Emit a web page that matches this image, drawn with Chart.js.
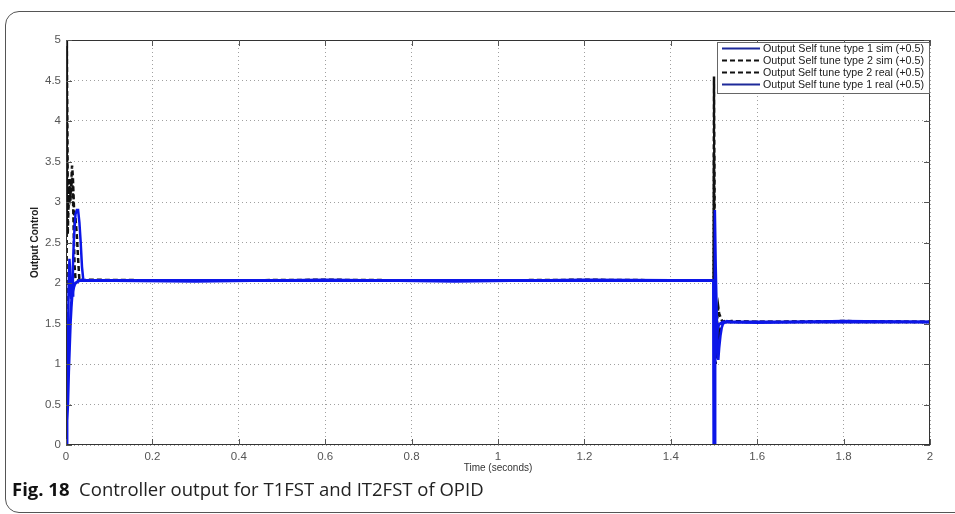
<!DOCTYPE html>
<html>
<head>
<meta charset="utf-8">
<script src="https://cdn.jsdelivr.net/npm/chart.js@4.4.1/dist/chart.umd.min.js"></script>
<style>
  html, body { margin: 0; padding: 0; background: #fff; }
  #wrap { position: relative; width: 955px; height: 514px; overflow: hidden; }
  #card { position: absolute; left: 5px; top: 11px; width: 980px; height: 502px;
          border: 1px solid #555; border-radius: 14px 0 0 14px; box-sizing: border-box; }
  #chart { position: absolute; left: 0; top: 0; }
  #caption { position: absolute; left: 12px; top: 476px; font-family: "Open Sans", sans-serif;
             font-size: 18.5px; color: #222; white-space: pre; }
  #caption b { font-weight: 700; color: #111; }
</style>
</head>
<body>
<div id="wrap">
  <div id="card"></div>
  <canvas id="chart" width="955" height="514"></canvas>
  <div id="caption"><b>Fig. 18</b>  Controller output for T1FST and IT2FST of OPID</div>
</div>
<script>
// time axis (seconds), shared by all series
var time = [0, 0.002, 0.004, 0.006, 0.008, 0.010, 0.012, 0.014, 0.016, 0.018, 0.020, 0.022,
            0.025, 0.028, 0.031, 0.034, 0.037, 0.040, 0.050,
            0.30, 0.60, 0.90, 1.20, 1.499,
            1.500, 1.502, 1.504, 1.506, 1.508, 1.510, 1.512,
            1.515, 1.518, 1.521, 1.525, 1.530, 1.540,
            1.60, 1.80, 2.00];

var type1Sim = [0, 0.3, 0.5, 0.9, 1.2, 1.5, 1.7, 1.85, 1.9, 1.95, 1.98, 2.0,
                2.01, 2.02, 2.03, 2.03, 2.03, 2.03, 2.03,
                2.03, 2.03, 2.03, 2.03, 2.03,
                0, 1.0, 1.2, 1.35, 1.42, 1.47, 1.49,
                1.5, 1.51, 1.52, 1.52, 1.52, 1.52,
                1.52, 1.52, 1.52];

var type2Sim = [0, 5.0, 2.6, 3.0, 3.2, 3.1, 3.2, 3.3, 3.1, 2.6, 2.2, 2.05,
                2.03, 2.03, 2.03, 2.03, 2.03, 2.03, 2.03,
                2.03, 2.03, 2.03, 2.03, 2.03,
                4.55, 2.0, 1.3, 1.1, 1.2, 1.4, 1.35,
                1.45, 1.5, 1.52, 1.52, 1.52, 1.52,
                1.52, 1.52, 1.52];

var type2Real = [0, 4.3, 2.8, 3.1, 3.3, 3.0, 3.2, 3.45, 3.3, 3.0, 2.7, 2.8,
                 2.6, 2.3, 2.04, 2.03, 2.04, 2.03, 2.04,
                 2.03, 2.04, 2.03, 2.04, 2.03,
                 3.6, 1.5, 1.0, 1.3, 1.6, 1.7, 1.62,
                 1.58, 1.54, 1.52, 1.53, 1.52, 1.53,
                 1.52, 1.53, 1.52];

var type1Real = [0, 0.5, 1.0, 1.9, 2.3, 2.1, 1.8, 1.9, 2.2, 2.5, 2.7, 2.85,
                 2.9, 2.9, 2.75, 2.5, 2.2, 2.04, 2.03,
                 2.02, 2.04, 2.02, 2.04, 2.03,
                 0, 2.9, 2.2, 1.7, 1.3, 1.05, 1.2,
                 1.35, 1.45, 1.5, 1.51, 1.53, 1.52,
                 1.51, 1.53, 1.52];

var seriesLabels = ['Output Self tune type 1 sim (+0.5)', 'Output Self tune type 2 sim (+0.5)',
                    'Output Self tune type 2 real (+0.5)', 'Output Self tune type 1 real (+0.5)'];

var xTicks = [0, 0.2, 0.4, 0.6, 0.8, 1, 1.2, 1.4, 1.6, 1.8, 2];
var yTicks = [0, 0.5, 1, 1.5, 2, 2.5, 3, 3.5, 4, 4.5, 5];

var BLUE = '#0c16e8';
var NAVY = '#1e2a9a';

function pts(vals) {
    return time.map(function (t, i) { return { x: t, y: vals[i] }; });
}

// frame, inner ticks, legend and axis titles drawn by hand (MATLAB look)
var matlabDecor = {
    id: 'matlabDecor',
    afterDraw: function (chart) {
        var ctx = chart.ctx;
        var a = chart.chartArea;
        var xs = chart.scales.x, ys = chart.scales.y;
        ctx.save();
        ctx.strokeStyle = '#333';
        ctx.lineWidth = 1;
        ctx.strokeRect(a.left + 0.5, a.top + 0.5, a.right - a.left - 1, a.bottom - a.top - 1);
        ctx.strokeStyle = '#555';
        ctx.beginPath();
        xTicks.forEach(function (v) {
            var px = Math.round(xs.getPixelForValue(v)) + 0.5;
            ctx.moveTo(px, a.bottom); ctx.lineTo(px, a.bottom - 6);
            ctx.moveTo(px, a.top); ctx.lineTo(px, a.top + 6);
        });
        yTicks.forEach(function (v) {
            var py = Math.round(ys.getPixelForValue(v)) + 0.5;
            ctx.moveTo(a.left, py); ctx.lineTo(a.left + 6, py);
            ctx.moveTo(a.right, py); ctx.lineTo(a.right - 6, py);
        });
        ctx.stroke();

        // legend box
        var bx = 717, by = 42, bw = 212, bh = 51;
        ctx.fillStyle = '#fff';
        ctx.fillRect(bx, by, bw, bh);
        ctx.strokeStyle = '#666';
        ctx.strokeRect(bx + 0.5, by + 0.5, bw, bh);
        ctx.font = '11px "Liberation Sans", Arial, sans-serif';
        ctx.textBaseline = 'middle';
        ctx.textAlign = 'left';
        chart.data.datasets.forEach(function (ds, i) {
            var ly = by + 6.5 + i * 12;
            ctx.beginPath();
            ctx.strokeStyle = ds.legendColor;
            ctx.lineWidth = 2;
            ctx.setLineDash(ds.borderDash || []);
            ctx.moveTo(bx + 5, ly); ctx.lineTo(bx + 43, ly);
            ctx.stroke();
            ctx.setLineDash([]);
            ctx.fillStyle = '#222';
            ctx.fillText(ds.label, bx + 46, ly, 161);
        });

        // axis titles
        ctx.fillStyle = '#333';
        ctx.font = '10px "Liberation Sans", Arial, sans-serif';
        ctx.textAlign = 'center';
        ctx.fillText('Time (seconds)', (a.left + a.right) / 2, a.bottom + 23);
        ctx.save();
        ctx.translate(35, (a.top + a.bottom) / 2);
        ctx.rotate(-Math.PI / 2);
        ctx.font = 'bold 10px "Liberation Sans", Arial, sans-serif';
        ctx.fillStyle = '#222';
        ctx.fillText('Output Control', 0, 0);
        ctx.restore();
        ctx.restore();
    }
};

var chart = new Chart(document.getElementById('chart'), {
    type: 'line',
    data: {
        datasets: [
            { label: seriesLabels[0], data: pts(type1Sim), borderColor: BLUE, legendColor: NAVY,
              borderWidth: 3, order: 0 },
            { label: seriesLabels[1], data: pts(type2Sim), borderColor: '#111', legendColor: '#111',
              borderWidth: 2.5, borderDash: [5, 3], order: 1 },
            { label: seriesLabels[2], data: pts(type2Real), borderColor: '#111', legendColor: '#111',
              borderWidth: 2.5, borderDash: [5, 3], order: 1 },
            { label: seriesLabels[3], data: pts(type1Real), borderColor: BLUE, legendColor: NAVY,
              borderWidth: 2.5, order: 0 }
        ]
    },
    options: {
        responsive: false,
        animation: false,
        layout: { padding: { left: 0, top: 40, right: 25, bottom: 0 } },
        elements: { point: { radius: 0 }, line: { tension: 0, fill: false } },
        plugins: { legend: { display: false }, tooltip: { enabled: false } },
        scales: {
            x: {
                type: 'linear', min: 0, max: 2,
                afterFit: function (s) { s.height = 69; },
                afterBuildTicks: function (s) { s.ticks = xTicks.map(function (v) { return { value: v }; }); },
                grid: { color: '#a0a0a0', lineWidth: 1, drawTicks: false },
                border: { display: false, dash: [1, 3] },
                ticks: { padding: 5, color: '#555', font: { family: '"Liberation Sans", Arial', size: 11.5 },
                         maxRotation: 0, callback: function (v) { return String(v); } }
            },
            y: {
                min: 0, max: 5,
                afterFit: function (s) { s.width = 66; },
                afterBuildTicks: function (s) { s.ticks = yTicks.map(function (v) { return { value: v }; }); },
                grid: { color: '#a0a0a0', lineWidth: 1, drawTicks: false },
                border: { display: false, dash: [1, 3] },
                ticks: { padding: 5, color: '#555', font: { family: '"Liberation Sans", Arial', size: 11.5 },
                         callback: function (v) { return String(v); } }
            }
        }
    },
    plugins: [matlabDecor]
});
</script>
</body>
</html>
